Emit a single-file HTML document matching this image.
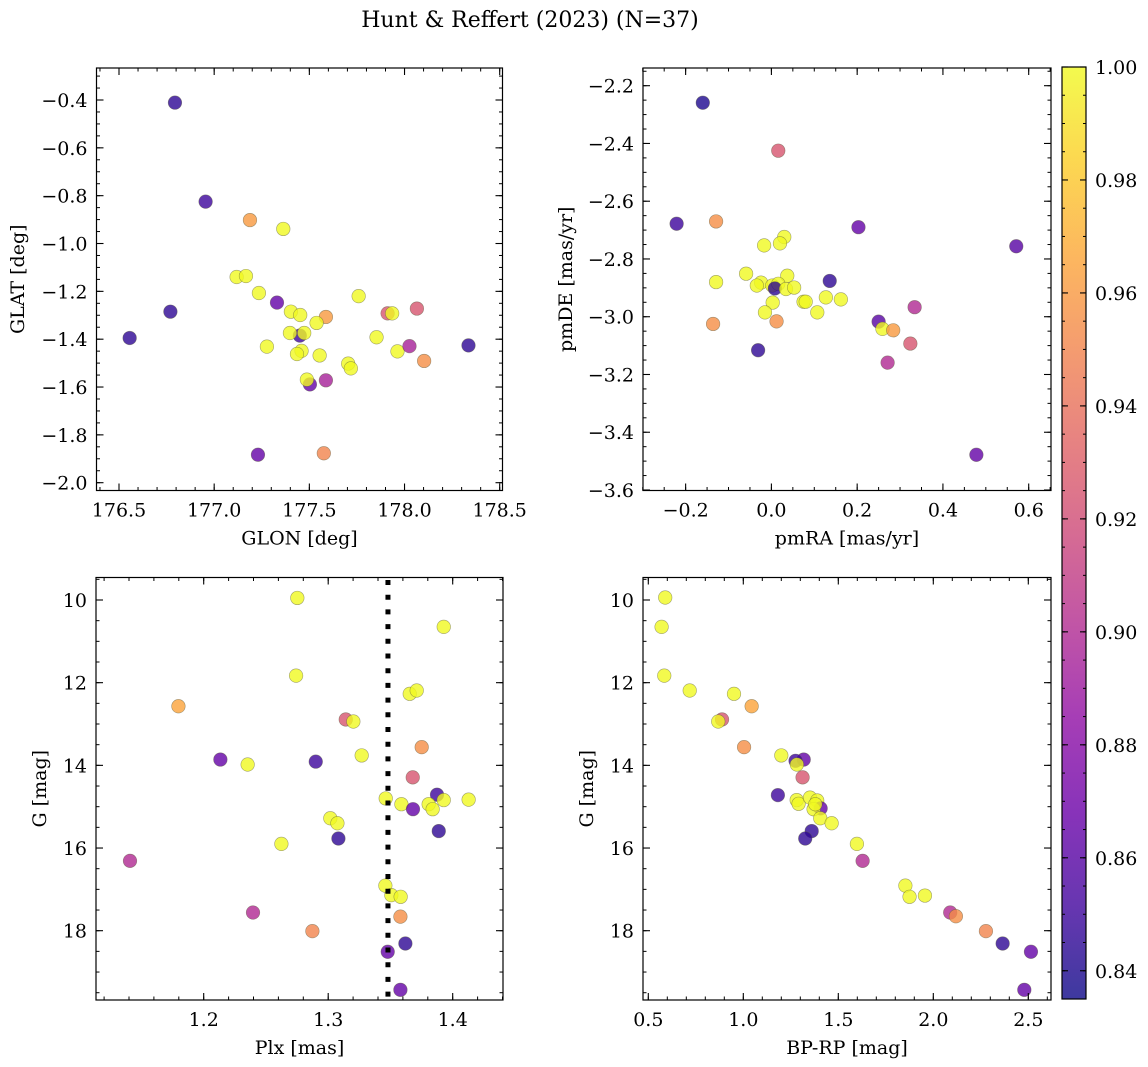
<!DOCTYPE html>
<html><head><meta charset="utf-8"><style>
html,body{margin:0;padding:0;background:#fff}
svg{display:block;font-family:"DejaVu Serif","Liberation Serif",serif}
</style></head><body>
<svg id="fig" width="1148" height="1067" viewBox="0 0 1148 1067" xmlns="http://www.w3.org/2000/svg">
<defs>
<linearGradient id="plasma" x1="0" y1="1" x2="0" y2="0">
<stop offset="0" stop-color="#0d0887"/><stop offset="0.1" stop-color="#41049d"/><stop offset="0.2" stop-color="#6a00a8"/><stop offset="0.3" stop-color="#8f0da4"/><stop offset="0.4" stop-color="#b12a90"/><stop offset="0.5" stop-color="#cc4778"/><stop offset="0.6" stop-color="#e16462"/><stop offset="0.7" stop-color="#f2844b"/><stop offset="0.8" stop-color="#fca636"/><stop offset="0.9" stop-color="#fcce25"/><stop offset="1" stop-color="#f0f921"/>
</linearGradient>
</defs>
<text x="530" y="27" font-size="22" text-anchor="middle">Hunt &amp; Reffert (2023) (N=37)</text>
</svg>
<script>
// ---- data ----
const glon=[176.794,176.955,177.188,177.363,177.118,177.167,177.235,177.330,176.770,176.556,177.403,177.452,177.587,177.538,177.450,177.398,177.473,177.277,177.459,177.435,177.554,177.759,177.704,177.718,177.853,177.911,177.935,178.065,177.963,178.026,178.103,178.336,177.503,177.487,177.587,177.230,177.576];
const glat=[-0.411,-0.825,-0.902,-0.939,-1.140,-1.136,-1.207,-1.247,-1.285,-1.395,-1.285,-1.299,-1.307,-1.332,-1.385,-1.374,-1.374,-1.431,-1.449,-1.462,-1.468,-1.220,-1.502,-1.522,-1.392,-1.292,-1.292,-1.272,-1.451,-1.429,-1.491,-1.426,-1.589,-1.569,-1.572,-1.883,-1.877];
const prob1=[0.845,0.85,0.96,1,1,1,1,0.865,0.845,0.845,1,1,0.96,1,0.85,1,1,1,1,1,1,1,1,1,1,0.925,1,0.925,1,0.895,0.955,0.845,0.865,1,0.895,0.865,0.95];

const pmra=[-0.160,0.016,-0.221,-0.129,0.203,0.571,0.030,0.020,-0.017,-0.059,-0.129,0.037,-0.024,-0.034,0.002,0.016,0.008,0.034,0.053,0.136,0.003,0.075,0.080,0.127,0.162,-0.015,0.107,-0.136,0.012,-0.031,0.250,0.259,0.284,0.334,0.324,0.271,0.478];
const pmde=[-2.259,-2.425,-2.678,-2.670,-2.690,-2.756,-2.724,-2.746,-2.753,-2.851,-2.880,-2.858,-2.882,-2.892,-2.892,-2.886,-2.902,-2.904,-2.899,-2.876,-2.951,-2.948,-2.948,-2.933,-2.940,-2.985,-2.985,-3.025,-3.016,-3.116,-3.017,-3.042,-3.047,-2.967,-3.093,-3.159,-3.478];
const prob2=[0.84,0.925,0.85,0.955,0.865,0.86,1,1,1,1,1,1,1,1,1,1,0.845,1,1,0.845,1,1,1,1,1,1,1,0.955,0.955,0.845,0.86,1,0.96,0.9,0.925,0.9,0.865];

const plx=[1.2752,1.3928,1.2742,1.3655,1.3711,1.1797,1.3141,1.3202,1.3751,1.3269,1.2134,1.2353,1.2900,1.3679,1.3874,1.3928,1.4128,1.3462,1.3588,1.3681,1.3807,1.3839,1.3017,1.3074,1.3082,1.3888,1.2624,1.1408,1.3459,1.3507,1.3582,1.2396,1.3580,1.2873,1.3620,1.3478,1.3580];
const gmag3=[9.95,10.65,11.83,12.27,12.19,12.57,12.89,12.94,13.56,13.76,13.86,13.98,13.91,14.29,14.71,14.84,14.83,14.80,14.94,15.06,14.94,15.06,15.28,15.40,15.77,15.59,15.90,16.31,16.91,17.14,17.18,17.56,17.66,18.01,18.31,18.51,19.43];
const prob3=[1,1,1,1,1,0.965,0.925,1,0.955,1,0.865,1,0.85,0.925,0.85,1,1,1,1,0.865,1,1,1,1,0.845,0.845,1,0.9,1,1,1,0.9,0.955,0.95,0.845,0.865,0.865];
const plxCut=[1.348];

const bprp=[0.589,0.570,0.584,0.718,0.951,1.044,0.888,0.868,1.004,1.200,1.318,1.275,1.282,1.312,1.182,1.281,1.291,1.351,1.389,1.407,1.370,1.379,1.405,1.465,1.360,1.326,1.598,1.628,1.853,1.875,1.956,2.089,2.119,2.277,2.365,2.514,2.479];
const gmag4=[9.94,10.65,11.83,12.19,12.27,12.57,12.89,12.94,13.56,13.76,13.86,13.89,13.98,14.29,14.72,14.84,14.93,14.78,14.85,15.04,15.06,14.94,15.28,15.40,15.59,15.77,15.90,16.31,16.91,17.18,17.15,17.56,17.65,18.01,18.31,18.51,19.43];
const prob4=[1,1,1,1,1,0.965,0.925,1,0.955,1,0.865,0.85,1,0.925,0.85,1,1,1,1,0.865,1,1,1,1,0.845,0.845,1,0.9,1,1,1,0.9,0.955,0.95,0.845,0.865,0.865];

const cbTicks=[0.84,0.86,0.88,0.90,0.92,0.94,0.96,0.98,1.00];
const cbRange=[0.835,1.0];

// ---- helpers ----
const NS="http://www.w3.org/2000/svg";
const svg=document.getElementById('fig');
function mk(tag,attrs,parent){const e=document.createElementNS(NS,tag);for(const k in attrs)e.setAttribute(k,attrs[k]);(parent||svg).appendChild(e);return e;}
const stops=[[13,8,135],[65,4,157],[106,0,168],[143,13,164],[177,42,144],[204,71,120],[225,100,98],[242,132,75],[252,166,54],[252,206,37],[240,249,33]];
function plasma(t){t=Math.max(0,Math.min(1,t));const f=t*10,i=Math.min(9,Math.floor(f)),r=f-i;const a=stops[i],b=stops[i+1];return 'rgb('+a.map((v,k)=>Math.round(v+(b[k]-v)*r)).join(',')+')';}
function lin(v0,p0,v1,p1){return v=>p0+(v-v0)*(p1-p0)/(v1-v0);}
function fmt(v,d){let s=v.toFixed(d);if(s[0]==='-')s='\u2212'+s.slice(1);return s;}

function panel(cfg){
  const g=mk('g',{});
  
  
  const {L,R,T,B}=cfg.box;
  const xs=cfg.xs,ys=cfg.ys;
  const pg=mk('g',{},g);
  
  
  for(let i=0;i<cfg.x.length;i++){
    const c=mk('circle',{cx:xs(cfg.x[i]),cy:ys(cfg.y[i]),r:6.8,fill:plasma((cfg.p[i]-cbRange[0])/(cbRange[1]-cbRange[0])),'fill-opacity':0.8,stroke:'rgba(90,90,60,0.55)','stroke-width':0.6},pg);
    
    
  }
  if(cfg.extra)cfg.extra(g);
  const fr=mk('rect',{x:L,y:T,width:R-L,height:B-T,fill:'none',stroke:'#000','stroke-width':1.2},g);
  
  
  const xa=mk('g',{},g);
  
  
  for(let v=cfg.xminor[0];v<=cfg.xminor[1]+1e-9;v+=cfg.xminor[2]){
    const px=xs(v);if(px<L-0.5||px>R+0.5)continue;
    mk('line',{x1:px,x2:px,y1:B,y2:B-3.5,stroke:'#000','stroke-width':1},xa);
    mk('line',{x1:px,x2:px,y1:T,y2:T+3.5,stroke:'#000','stroke-width':1},xa);
  }
  cfg.xticks.forEach(v=>{const px=xs(v);
    mk('line',{x1:px,x2:px,y1:B,y2:B-7,stroke:'#000','stroke-width':1.1},xa);
    mk('line',{x1:px,x2:px,y1:T,y2:T+7,stroke:'#000','stroke-width':1.1},xa);
    const t=mk('text',{x:px,y:B+26,'font-size':19,'text-anchor':'middle'},xa);t.textContent=fmt(v,cfg.xd);
    
    
  });
  const xl=mk('text',{x:(L+R)/2,y:B+54,'font-size':19,'text-anchor':'middle'},g);xl.textContent=cfg.xlabel;
  
  
  const ya=mk('g',{},g);
  
  
  for(let v=cfg.yminor[0];v<=cfg.yminor[1]+1e-9;v+=cfg.yminor[2]){
    const py=ys(v);if(py<T-0.5||py>B+0.5)continue;
    mk('line',{x1:L,x2:L+3.5,y1:py,y2:py,stroke:'#000','stroke-width':1},ya);
    mk('line',{x1:R,x2:R-3.5,y1:py,y2:py,stroke:'#000','stroke-width':1},ya);
  }
  cfg.yticks.forEach(v=>{const py=ys(v);
    mk('line',{x1:L,x2:L+7,y1:py,y2:py,stroke:'#000','stroke-width':1.1},ya);
    mk('line',{x1:R,x2:R-7,y1:py,y2:py,stroke:'#000','stroke-width':1.1},ya);
    const t=mk('text',{x:L-9,y:py+7,'font-size':19,'text-anchor':'end'},ya);t.textContent=fmt(v,cfg.yd);
    
    
  });
  const yl=mk('text',{x:0,y:0,'font-size':19,'text-anchor':'middle',transform:'translate('+cfg.ylx+','+(T+B)/2+') rotate(-90)'},g);yl.textContent=cfg.ylabel;
  
  
}

function range(a,b,s){const r=[];for(let v=a;v<=b+1e-9;v+=s)r.push(+v.toFixed(6));return r;}

panel({name:'glon-glat-panel',box:{L:96.5,R:502.5,T:68,B:490.5},
  xs:lin(176.5,119,178.5,499.7),ys:lin(-0.4,100,-2.0,482.7),
  x:glon,y:glat,p:prob1,xticks:range(176.5,178.5,0.5),xd:1,xminor:[176.3,178.6,0.1],
  yticks:range(-2.0,-0.4,0.2),yd:1,yminor:[-2.05,-0.25,0.05],xlabel:'GLON [deg]',ylabel:'GLAT [deg]',ylx:24});

panel({name:'pm-panel',box:{L:643,R:1051,T:68,B:490.5},
  xs:lin(0,771.4,0.6,1028.7),ys:lin(-2.2,85.7,-3.6,490),
  x:pmra,y:pmde,p:prob2,xticks:range(-0.2,0.6,0.2),xd:1,xminor:[-0.3,0.65,0.05],
  yticks:range(-3.6,-2.2,0.2),yd:1,yminor:[-3.6,-2.1,0.05],xlabel:'pmRA [mas/yr]',ylabel:'pmDE [mas/yr]',ylx:572});

panel({name:'plx-g-panel',box:{L:96,R:503,T:577.5,B:1000},
  xs:lin(1.2,203.7,1.4,452.7),ys:lin(10,600,18,930.7),
  x:plx,y:gmag3,p:prob3,xticks:range(1.2,1.4,0.1),xd:1,xminor:[1.12,1.44,0.02],
  yticks:range(10,18,2),yd:0,yminor:[9.5,19.5,0.5],xlabel:'Plx [mas]',ylabel:'G [mag]',ylx:46,
  extra:function(g){
    const xs=lin(1.2,203.7,1.4,452.7);
    plxCut.forEach(v=>{
      const l=mk('line',{x1:xs(v),x2:xs(v),y1:580,y2:1000,stroke:'#000','stroke-width':5,'stroke-dasharray':'5,9.7'},g);
      
      
    });
  }});

panel({name:'cmd-panel',box:{L:643,R:1051,T:577.5,B:1000},
  xs:lin(1.5,838.3,2.5,1028.3),ys:lin(10,600,18,930.7),
  x:bprp,y:gmag4,p:prob4,xticks:range(0.5,2.5,0.5),xd:1,xminor:[0.5,2.6,0.1],
  yticks:range(10,18,2),yd:0,yminor:[9.5,19.5,0.5],xlabel:'BP-RP [mag]',ylabel:'G [mag]',ylx:593});

(function(){
  const L=1062,R=1086,T=67,B=999;
  const g=mk('g',{});
  
  
  const r=mk('rect',{x:L,y:T,width:R-L,height:B-T,fill:'url(#plasma)','fill-opacity':0.8},g);
  
  
  mk('rect',{x:L,y:T,width:R-L,height:B-T,fill:'none',stroke:'#000','stroke-width':1.2},g);
  const ys=lin(cbRange[0],B,cbRange[1],T);
  for(let v=0.835;v<=1.0001;v+=0.005){const py=ys(v);
    mk('line',{x1:R,x2:R-3,y1:py,y2:py,stroke:'#000','stroke-width':1},g);
    mk('line',{x1:L,x2:L+3,y1:py,y2:py,stroke:'#000','stroke-width':1},g);}
  cbTicks.forEach(v=>{const py=ys(v);
    mk('line',{x1:R,x2:R-6,y1:py,y2:py,stroke:'#000','stroke-width':1.1},g);
    mk('line',{x1:L,x2:L+6,y1:py,y2:py,stroke:'#000','stroke-width':1.1},g);
    const t=mk('text',{x:R+9,y:py+7,'font-size':19},g);t.textContent=v.toFixed(2);
    
    
  });
})();
</script>
</body></html>
